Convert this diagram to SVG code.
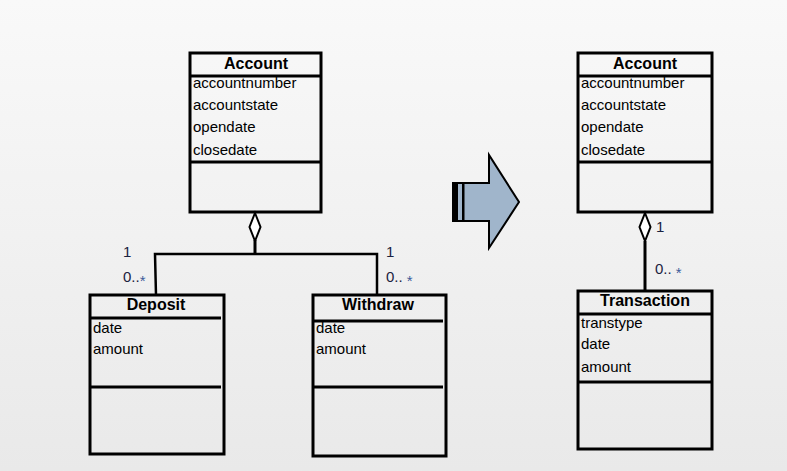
<svg xmlns="http://www.w3.org/2000/svg" width="787" height="471" viewBox="0 0 787 471">
<defs>
<linearGradient id="bg" x1="0" y1="0" x2="0" y2="1">
<stop offset="0" stop-color="#f9f9f9"/>
<stop offset="1" stop-color="#e9e9e9"/>
</linearGradient>
</defs>
<style>
.box{fill:none;stroke:#000;stroke-width:3}
.sep{stroke:#000;stroke-width:3}
.title{font-family:"Liberation Sans",Arial,sans-serif;font-size:16px;font-weight:bold;text-anchor:middle;fill:#000}
.attr{font-family:"Liberation Sans",Arial,sans-serif;font-size:15px;fill:#000}
.mult{font-family:"Liberation Sans",Arial,sans-serif;font-size:15px;fill:#1a2240}
.star{fill:#3d5c99;font-size:15px}
.line{fill:none;stroke:#000;stroke-width:3}
.thin{fill:none;stroke:#000;stroke-width:2.5}
.dia{fill:#fff;stroke:#000;stroke-width:2}
</style>
<rect x="0" y="0" width="787" height="471" fill="url(#bg)"/>

<g id="connectors">
<line class="line" x1="255" y1="240" x2="255" y2="254"/>
<polyline class="thin" points="156,295 155,254 377,254 377,295"/>
<path class="dia" d="M255,213 L260.5,227 L255,241 L249.5,227 Z"/>
<text class="mult" x="123" y="257">1</text>
<text class="mult" x="123" y="282">0..<tspan class="star" dy="4">*</tspan></text>
<text class="mult" x="386" y="257">1</text>
<text class="mult" x="386" y="282">0.. <tspan class="star" dy="4">*</tspan></text>
<line class="line" x1="645" y1="241" x2="645" y2="291"/>
<path class="dia" d="M645,213 L650.5,227 L645,241 L639.5,227 Z"/>
<text class="mult" x="656" y="232">1</text>
<text class="mult" x="655" y="274">0.. <tspan class="star" dy="4">*</tspan></text>
</g>

<g id="account-left">
<rect class="box" x="190" y="53" width="131" height="159"/>
<line class="sep" x1="190" y1="76" x2="321" y2="76"/>
<line class="sep" x1="190" y1="162" x2="321" y2="162"/>
<text class="title" x="256" y="69">Account</text>
<text class="attr" x="193" y="88">accountnumber</text>
<text class="attr" x="193" y="110">accountstate</text>
<text class="attr" x="193" y="132">opendate</text>
<text class="attr" x="193" y="155">closedate</text>
</g>

<g id="deposit">
<rect class="box" x="90" y="295" width="134" height="159"/>
<line class="sep" x1="90" y1="318" x2="221" y2="318"/>
<line class="sep" x1="90" y1="387" x2="221" y2="387"/>
<text class="title" x="156" y="310">Deposit</text>
<text class="attr" x="93" y="333">date</text>
<text class="attr" x="93" y="354">amount</text>
</g>

<g id="withdraw">
<rect class="box" x="313" y="295" width="133" height="161"/>
<line class="sep" x1="313" y1="321" x2="443" y2="321"/>
<line class="sep" x1="313" y1="387" x2="443" y2="387"/>
<text class="title" x="378" y="310">Withdraw</text>
<text class="attr" x="316" y="333">date</text>
<text class="attr" x="316" y="354">amount</text>
</g>

<g id="arrow">
<path d="M453,183 L489,183 L489,155 L519,202 L489,248 L489,221 L453,221 Z" fill="#a0b5cb" stroke="#000" stroke-width="2"/>
<rect x="453" y="183" width="5" height="38" fill="#000"/>
<rect x="462" y="183" width="2.5" height="38" fill="#000"/>
</g>

<g id="account-right">
<rect class="box" x="578" y="53" width="134" height="159"/>
<line class="sep" x1="578" y1="76" x2="712" y2="76"/>
<line class="sep" x1="578" y1="162" x2="712" y2="162"/>
<text class="title" x="645" y="69">Account</text>
<text class="attr" x="581" y="88">accountnumber</text>
<text class="attr" x="581" y="110">accountstate</text>
<text class="attr" x="581" y="132">opendate</text>
<text class="attr" x="581" y="155">closedate</text>
</g>

<g id="transaction">
<rect class="box" x="578" y="291" width="134" height="158"/>
<line class="sep" x1="578" y1="314" x2="712" y2="314"/>
<line class="sep" x1="578" y1="382" x2="712" y2="382"/>
<text class="title" x="645" y="306">Transaction</text>
<text class="attr" x="581" y="328">transtype</text>
<text class="attr" x="581" y="349">date</text>
<text class="attr" x="581" y="372">amount</text>
</g>
</svg>
